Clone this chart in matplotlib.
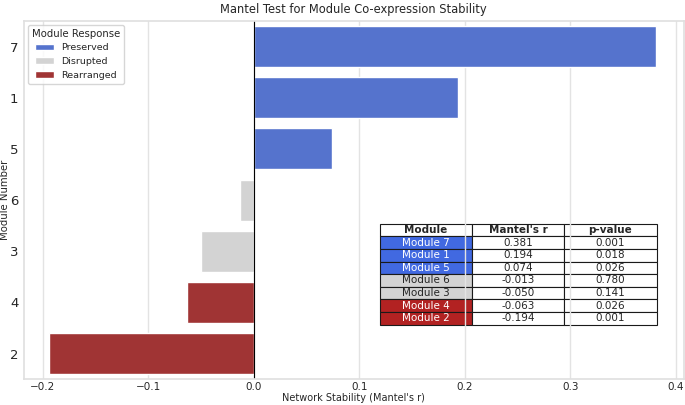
import numpy as np
import matplotlib
matplotlib.use('Agg')
import matplotlib.pyplot as plt
import seaborn as sns
from matplotlib.patches import Patch

modules = ['7', '1', '5', '6', '3', '4', '2']
mantel_r = [0.381, 0.194, 0.074, -0.013, -0.050, -0.063, -0.194]
p_values = [0.001, 0.018, 0.026, 0.780, 0.141, 0.026, 0.001]
response = ['Preserved', 'Preserved', 'Preserved', 'Disrupted', 'Disrupted', 'Rearranged', 'Rearranged']

colors = {'Preserved': 'royalblue', 'Disrupted': 'lightgray', 'Rearranged': 'firebrick'}

sns.set_theme(style='whitegrid')
fig, ax = plt.subplots(figsize=(6.85, 4.05), dpi=100)

bar_colors = [sns.desaturate(colors[r], 0.75) for r in response]
y = np.arange(len(modules))
ax.barh(y, mantel_r, color=bar_colors, height=0.8)
ax.set_yticks(y)
ax.set_yticklabels(modules, fontsize=9.5)
ax.set_ylim(len(modules) - 0.5, -0.5)
ax.grid(False, axis='y')
ax.grid(True, axis='x', color='#e3e3e3')
for sp in ax.spines.values():
    sp.set_color('#e0e0e0')
ax.axvline(0, color='black', linewidth=0.8)
ax.set_xlim(-0.218, 0.4076)
ax.tick_params(axis='y', length=0, pad=4)
ax.tick_params(axis='x', length=0, pad=2, labelsize=7.5)
ax.set_xlabel("Network Stability (Mantel's r)", fontsize=7, labelpad=1)
ax.set_ylabel('Module Number', fontsize=7.3)
ax.yaxis.set_label_coords(-0.021, 0.5)
ax.set_title('Mantel Test for Module Co-expression Stability', fontsize=8.3)

handles = [Patch(facecolor=sns.desaturate(colors[k], 0.75), label=k) for k in colors]
ax.legend(handles=handles, title='Module Response', loc='upper left',
          fontsize=6.8, title_fontsize=7.3, borderaxespad=0.4)

cell_text = [['Module %s' % m, '%.3f' % r, '%.3f' % p]
             for m, r, p in zip(modules, mantel_r, p_values)]
tbl = ax.table(cellText=cell_text, colLabels=['Module', "Mantel's r", 'p-value'],
               bbox=[0.539, 0.152, 0.42, 0.434 - 0.152], cellLoc='center')
tbl.auto_set_font_size(False)
tbl.set_fontsize(7.5)
for (row, col), cell in tbl.get_celld().items():
    cell.set_linewidth(0.8)
    if row == 0:
        cell.set_text_props(weight='bold')
    elif col == 0:
        c = colors[response[row - 1]]
        cell.set_facecolor(c)
        if c != 'lightgray':
            cell.set_text_props(color='white')

plt.subplots_adjust(left=0.035, right=0.998, top=0.948, bottom=0.064)
plt.savefig('out.png', dpi=100)
